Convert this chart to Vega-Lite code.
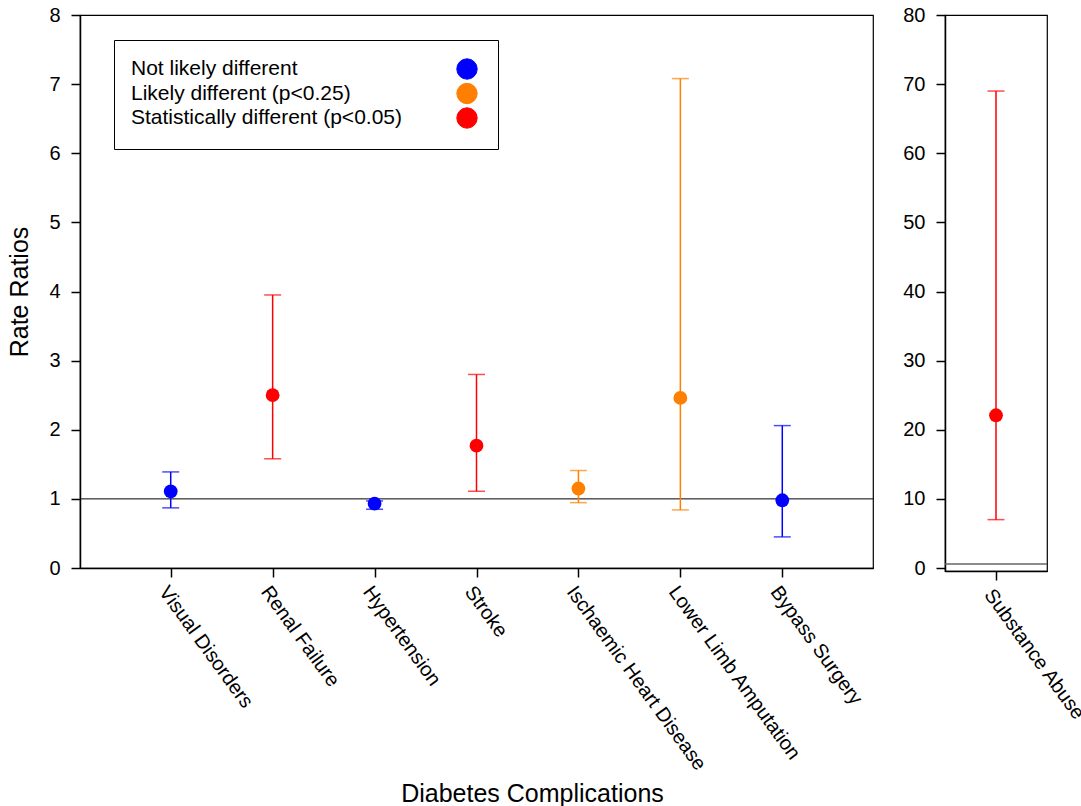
{
  "$schema": "https://vega.github.io/schema/vega-lite/v6.json",
  "background": "white",
  "padding": {"left": 7, "top": 4, "right": 0, "bottom": 0},
  "datasets": {
    "main": [
      {"cat": "Visual Disorders", "group": "Not likely different", "rr": 1.11, "lo": 0.87, "hi": 1.39},
      {"cat": "Renal Failure", "group": "Statistically different (p<0.05)", "rr": 2.50, "lo": 1.58, "hi": 3.95},
      {"cat": "Hypertension", "group": "Not likely different", "rr": 0.93, "lo": 0.85, "hi": 0.97},
      {"cat": "Stroke", "group": "Statistically different (p<0.05)", "rr": 1.77, "lo": 1.11, "hi": 2.80},
      {"cat": "Ischaemic Heart Disease", "group": "Likely different (p<0.25)", "rr": 1.15, "lo": 0.945, "hi": 1.41},
      {"cat": "Lower Limb Amputation", "group": "Likely different (p<0.25)", "rr": 2.46, "lo": 0.84, "hi": 7.08},
      {"cat": "Bypass Surgery", "group": "Not likely different", "rr": 0.98, "lo": 0.45, "hi": 2.06}
    ],
    "right": [
      {"cat": "Substance Abuse", "group": "Statistically different (p<0.05)", "rr": 22.1, "lo": 7.0, "hi": 69.0}
    ],
    "refMain": [{"v": 1}],
    "refRight": [{"v": 0.6}]
  },
  "config": {
    "font": "Liberation Sans",
    "view": {"stroke": "black", "strokeWidth": 1.2},
    "axis": {
      "grid": false,
      "labelColor": "black",
      "titleColor": "black",
      "domainColor": "black",
      "domainWidth": 1.5,
      "tickColor": "black",
      "tickWidth": 1.5,
      "tickSize": 9
    }
  },
  "spacing": 27,
  "hconcat": [
    {
      "width": 793,
      "height": 553,
      "encoding": {
        "x": {
          "field": "cat", "type": "nominal",
          "scale": {"type": "point", "padding": 0.89, "domain": ["Visual Disorders", "Renal Failure", "Hypertension", "Stroke", "Ischaemic Heart Disease", "Lower Limb Amputation", "Bypass Surgery"]},
          "axis": {
            "title": "Diabetes Complications",
            "labelFontSize": 20,
            "titleFontSize": 25,
            "titleFontWeight": "normal",
            "labelAngle": 54,
            "labelAlign": "left",
            "labelBaseline": "top",
            "labelPadding": 5,
            "labelLimit": 400,
            "titleX": 452,
            "titleY": 233,
            "titleAlign": "center",
            "titleBaseline": "alphabetic"
          }
        },
        "color": {
          "field": "group", "type": "nominal",
          "scale": {
            "domain": ["Not likely different", "Likely different (p<0.25)", "Statistically different (p<0.05)"],
            "range": ["#0000ff", "#ff8000", "#ff0000"]
          },
          "legend": {
            "title": null,
            "orient": "none",
            "legendX": 34,
            "legendY": 25,
            "padding": 18,
            "strokeColor": "black",
            "fillColor": "white",
            "cornerRadius": 0,
            "symbolType": "circle",
            "symbolSize": 415,
            "symbolOpacity": 1,
            "symbolStrokeColor": "black",
            "symbolStrokeWidth": 1,
            "symbolOffset": 324,
            "labelOffset": -347,
            "labelFontSize": 21,
            "labelColor": "black",
            "rowPadding": -1.5,
            "labelLimit": 400,
            "encode": {
              "symbols": {
                "update": {
                  "stroke": {"value": "black"},
                  "strokeWidth": {"value": 1},
                  "opacity": {"value": 1},
                  "fillOpacity": {"value": 1}
                }
              }
            }
          }
        }
      },
      "layer": [
        {
          "data": {"name": "refMain"},
          "mark": {"type": "rule", "color": "black", "strokeWidth": 1},
          "encoding": {
            "x": null,
            "color": null,
            "y": {"field": "v", "type": "quantitative", "scale": {"domain": [0, 8], "nice": false}}
          }
        },
        {
          "data": {"name": "main"},
          "mark": {"type": "rule", "strokeWidth": 1.5},
          "encoding": {
            "y": {"field": "lo", "type": "quantitative"},
            "y2": {"field": "hi"}
          }
        },
        {
          "data": {"name": "main"},
          "mark": {"type": "tick", "size": 17, "thickness": 1.5, "orient": "horizontal"},
          "encoding": {"y": {"field": "lo", "type": "quantitative"}}
        },
        {
          "data": {"name": "main"},
          "mark": {"type": "tick", "size": 17, "thickness": 1.5, "orient": "horizontal"},
          "encoding": {"y": {"field": "hi", "type": "quantitative"}}
        },
        {
          "data": {"name": "main"},
          "mark": {"type": "point", "filled": true, "size": 190, "opacity": 1},
          "encoding": {
            "y": {
              "field": "rr", "type": "quantitative",
              "scale": {"domain": [0, 8], "nice": false},
              "axis": {"title": "Rate Ratios", "format": "d", "values": [0, 1, 2, 3, 4, 5, 6, 7, 8], "labelFontSize": 20, "titleFontSize": 25, "titleFontWeight": "normal", "labelPadding": 11, "titlePadding": 16}
            }
          }
        }
      ]
    },
    {
      "width": 102,
      "height": 556,
      "encoding": {
        "x": {
          "field": "cat", "type": "nominal",
          "scale": {"type": "point", "padding": 0.5},
          "axis": {"title": null, "labelFontSize": 20, "labelAngle": 54, "labelAlign": "left", "labelBaseline": "top", "labelPadding": 5, "labelLimit": 400}
        },
        "color": {
          "field": "group", "type": "nominal",
          "scale": {
            "domain": ["Not likely different", "Likely different (p<0.25)", "Statistically different (p<0.05)"],
            "range": ["#0000ff", "#ff8000", "#ff0000"]
          },
          "legend": null
        }
      },
      "layer": [
        {
          "data": {"name": "refRight"},
          "mark": {"type": "rule", "color": "#666666", "strokeWidth": 1.5},
          "encoding": {
            "x": null,
            "color": null,
            "y": {"field": "v", "type": "quantitative", "scale": {"domain": [-0.43, 80], "nice": false}}
          }
        },
        {
          "data": {"name": "right"},
          "mark": {"type": "rule", "strokeWidth": 1.5},
          "encoding": {
            "y": {"field": "lo", "type": "quantitative"},
            "y2": {"field": "hi"}
          }
        },
        {
          "data": {"name": "right"},
          "mark": {"type": "tick", "size": 17, "thickness": 1.5, "orient": "horizontal"},
          "encoding": {"y": {"field": "lo", "type": "quantitative"}}
        },
        {
          "data": {"name": "right"},
          "mark": {"type": "tick", "size": 17, "thickness": 1.5, "orient": "horizontal"},
          "encoding": {"y": {"field": "hi", "type": "quantitative"}}
        },
        {
          "data": {"name": "right"},
          "mark": {"type": "point", "filled": true, "size": 190, "opacity": 1},
          "encoding": {
            "y": {
              "field": "rr", "type": "quantitative",
              "scale": {"domain": [-0.43, 80], "nice": false},
              "axis": {"title": null, "values": [0, 10, 20, 30, 40, 50, 60, 70, 80], "labelFontSize": 20, "labelPadding": 11}
            }
          }
        }
      ]
    }
  ],
  "resolve": {
    "scale": {"x": "independent", "y": "independent", "color": "independent"},
    "legend": {"color": "independent"}
  }
}
